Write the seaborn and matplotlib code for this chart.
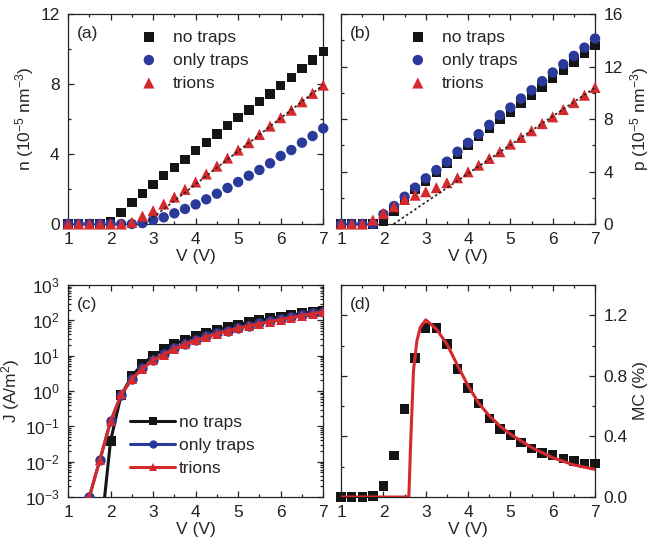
import numpy as np
import matplotlib
matplotlib.use("Agg")
import matplotlib.pyplot as plt
from matplotlib.ticker import MultipleLocator, LogLocator, NullFormatter, FormatStrFormatter
import pandas as pd
import seaborn as sns

V = np.arange(1.0, 7.01, 0.25)
labels = ["no traps", "only traps", "trions"]

# (a) electron density n (1e-5 nm^-3)
n_notraps = [0, 0, 0, 0, 0.13, 0.67, 1.24, 1.75, 2.27, 2.76, 3.22, 3.70, 4.19,
             4.65, 5.14, 5.62, 6.08, 6.53, 7.00, 7.43, 7.92, 8.38, 8.88, 9.37, 9.85]
n_onlytraps = [0, 0, 0, 0, 0, 0, 0, 0.05, 0.23, 0.38, 0.61, 0.86, 1.12, 1.41,
               1.73, 2.06, 2.40, 2.76, 3.09, 3.47, 3.89, 4.23, 4.65, 5.03, 5.47]
n_trions = [0, 0, 0, 0, 0, 0, 0.1, 0.45, 0.76, 1.14, 1.54, 1.98, 2.40, 2.86,
            3.31, 3.77, 4.23, 4.65, 5.12, 5.60, 6.08, 6.51, 6.99, 7.47, 7.94]
n_fit_v = [2.8, 7.0]
n_fit = [0.0, 7.95]

# (b) hole density p (1e-5 nm^-3)
p_notraps = [0, 0, 0, 0, 0.18, 1.00, 1.83, 2.64, 3.27, 3.93, 4.62, 5.33, 6.02,
             6.65, 7.28, 7.97, 8.55, 9.19, 9.82, 10.46, 11.10, 11.73, 12.36, 13.00, 13.63]
p_onlytraps = [0, 0, 0, 0, 0.74, 1.37, 2.08, 2.77, 3.48, 4.11, 4.75, 5.51, 6.19,
               6.85, 7.56, 8.30, 8.88, 9.57, 10.20, 10.89, 11.55, 12.18, 12.82, 13.45, 14.14]
p_trions = [0, 0, 0, 0.30, 0.81, 1.32, 1.88, 2.20, 2.46, 2.77, 3.15, 3.53, 3.98,
            4.49, 5.00, 5.51, 6.09, 6.60, 7.11, 7.66, 8.17, 8.73, 9.26, 9.82, 10.41]
p_fit_v = [2.24, 7.0]
p_fit = [0.0, 10.4]

# (c) current density J (A/m^2)
j_notraps = [1e-7, 1e-7, 1e-6, 5.6e-5, 0.039, 0.78, 2.6, 5.9, 9.8, 15, 21.5, 28, 36,
             45, 55, 65, 76, 88, 100, 113, 127, 141, 157, 173, 190]
j_onlytraps = [1e-6, 3e-5, 1.0e-3, 0.0114, 0.138, 0.78, 2.2, 4.4, 7.6, 11, 16, 21.5, 28,
               35, 43, 51, 62, 71, 83, 94, 107, 122, 139, 158, 177]
j_trions = [1e-6, 3e-5, 1.0e-3, 0.0114, 0.138, 0.80, 2.2, 4.3, 7.4, 10.8, 15.6, 21, 27,
            34, 42, 50, 60, 70, 81, 92, 105, 120, 137, 155, 174]

# (d) magnetoconductance MC (%)
mc_data = [0, 0, 0, 0.007, 0.073, 0.276, 0.58, 0.917, 1.116, 1.116, 1.012, 0.846, 0.72,
           0.619, 0.52, 0.449, 0.411, 0.36, 0.32, 0.29, 0.278, 0.256, 0.239, 0.221, 0.221]
mc_fit_v = [1.0, 2.6, 2.64, 2.71, 2.79, 2.87, 3.0, 3.25, 3.5, 3.75, 4.0, 4.25, 4.5,
            4.75, 5.0, 5.5, 6.0, 6.5, 7.0]
mc_fit = [0, 0, 0.33, 0.835, 1.03, 1.12, 1.17, 1.11, 1.01, 0.87, 0.735, 0.62, 0.537,
          0.47, 0.415, 0.327, 0.26, 0.212, 0.183]

black, blue, red = "#151515", "#2a3a9a", "#d42a2e"
palette = dict(zip(labels, [black, blue, red]))
markers = dict(zip(labels, ["s", "o", "^"]))
sizes = {"s": 46, "o": 56, "^": 64}

sns.set_theme(style="ticks")
plt.rcParams["font.family"] = ["Liberation Sans", "DejaVu Sans"]
plt.rcParams["mathtext.fontset"] = "custom"
plt.rcParams["mathtext.rm"] = "Liberation Sans"
plt.rcParams["mathtext.it"] = "Liberation Sans"
plt.rcParams["font.size"] = 12.5
FS = 12.5


def long_df(series):
    rows = []
    for lab, vals in zip(labels, series):
        rows.append(pd.DataFrame({"V": V, "y": vals, "case": lab}))
    return pd.concat(rows, ignore_index=True)


def style_axes(ax, right=False):
    ax.set_xlim(1, 7)
    ax.xaxis.set_major_locator(MultipleLocator(1))
    ax.xaxis.set_minor_locator(MultipleLocator(0.5))
    ax.tick_params(which="both", direction="in", top=True, right=True,
                   labelsize=FS, colors="#222222", width=0.9, pad=6)
    ax.tick_params(which="major", length=4.5)
    ax.tick_params(which="minor", length=2.5)
    if right:
        ax.yaxis.tick_right()
        ax.yaxis.set_label_position("right")
        ax.tick_params(which="both", left=True, right=True, labelleft=False, labelright=True)
    for s in ax.spines.values():
        s.set_linewidth(0.9)
        s.set_color("#222222")
    ax.set_xlabel("V (V)", fontsize=FS, labelpad=1.5)


def scatter_legend(ax, x):
    ax.legend(loc="upper left", bbox_to_anchor=(x, 0.985), frameon=False, fontsize=FS,
              handletextpad=0.9, labelspacing=0.45, borderaxespad=0.3, handlelength=1.0)


fig = plt.figure(figsize=(6.51, 5.45), dpi=100)
axa = fig.add_axes([0.1045, 0.589, 0.392, 0.385])
axb = fig.add_axes([0.524, 0.589, 0.390, 0.385])
axc = fig.add_axes([0.1045, 0.088, 0.392, 0.389])
axd = fig.add_axes([0.524, 0.088, 0.390, 0.389])

# (a)
dfa = long_df([n_notraps, n_onlytraps, n_trions])
for lab in labels:
    sub = dfa[dfa.case == lab]
    sns.scatterplot(data=sub, x="V", y="y", color=palette[lab], marker=markers[lab],
                    s=sizes[markers[lab]], edgecolor="none", ax=axa, label=lab,
                    zorder=3, clip_on=False)
axa.plot(n_fit_v, n_fit, ls=(0, (1.5, 1.5)), color="#222222", lw=1.2, zorder=4)
axa.set_ylim(0, 12)
axa.yaxis.set_major_locator(MultipleLocator(4))
axa.yaxis.set_minor_locator(MultipleLocator(2))
style_axes(axa)
axa.set_ylabel(r"n (10$^{-5}$ nm$^{-3}$)", fontsize=FS, labelpad=3)
scatter_legend(axa, 0.235)
axa.text(0.035, 0.91, "(a)", transform=axa.transAxes, fontsize=FS, va="center")

# (b)
dfb = long_df([p_notraps, p_onlytraps, p_trions])
for lab in labels:
    sub = dfb[dfb.case == lab]
    sns.scatterplot(data=sub, x="V", y="y", color=palette[lab], marker=markers[lab],
                    s=sizes[markers[lab]], edgecolor="none", ax=axb, label=lab,
                    zorder=3, clip_on=False)
axb.plot(p_fit_v, p_fit, ls=(0, (1.5, 1.5)), color="#222222", lw=1.2, zorder=4)
axb.set_ylim(0, 16)
axb.yaxis.set_major_locator(MultipleLocator(4))
axb.yaxis.set_minor_locator(MultipleLocator(2))
style_axes(axb, right=True)
axb.set_ylabel(r"p (10$^{-5}$ nm$^{-3}$)", fontsize=FS, labelpad=4)
scatter_legend(axb, 0.22)
axb.text(0.035, 0.91, "(b)", transform=axb.transAxes, fontsize=FS, va="center")

# (c)
dfc = long_df([j_notraps, j_onlytraps, j_trions])
for lab in labels:
    sub = dfc[dfc.case == lab]
    sns.lineplot(data=sub, x="V", y="y", color=palette[lab], marker=markers[lab],
                 markersize=7.5, markeredgewidth=0, lw=2.2, ax=axc, label=lab, zorder=3)
axc.set_yscale("log")
axc.set_ylim(1e-3, 1e3)
axc.yaxis.set_major_locator(LogLocator(base=10, numticks=10))
axc.yaxis.set_minor_locator(LogLocator(base=10, subs=np.arange(2, 10), numticks=20))
axc.yaxis.set_minor_formatter(NullFormatter())
style_axes(axc)
axc.set_ylabel(r"J (A/m$^2$)", fontsize=FS, labelpad=2)
leg = axc.legend(loc="lower left", bbox_to_anchor=(0.195, 0.04), frameon=False, fontsize=FS,
                 handletextpad=0.2, labelspacing=0.45, handlelength=2.6, borderaxespad=0.3)
for h in leg.legend_handles:
    h.set_markersize(6)
axc.text(0.035, 0.91, "(c)", transform=axc.transAxes, fontsize=FS, va="center")

# (d)
dfd = pd.DataFrame({"V": V, "MC": mc_data})
sns.scatterplot(data=dfd, x="V", y="MC", color=black, marker="s", s=sizes["s"],
                edgecolor="none", ax=axd, zorder=3, clip_on=False)
sns.lineplot(x=mc_fit_v, y=mc_fit, color=red, lw=2.2, ax=axd, zorder=4)
axd.set_ylim(0, 1.4)
axd.yaxis.set_major_locator(MultipleLocator(0.4))
axd.yaxis.set_minor_locator(MultipleLocator(0.2))
style_axes(axd, right=True)
axd.yaxis.set_major_formatter(FormatStrFormatter("%.1f"))
axd.set_ylabel("MC (%)", fontsize=FS, labelpad=4)
axd.text(0.035, 0.91, "(d)", transform=axd.transAxes, fontsize=FS, va="center")

fig.savefig("out.png", dpi=100)
